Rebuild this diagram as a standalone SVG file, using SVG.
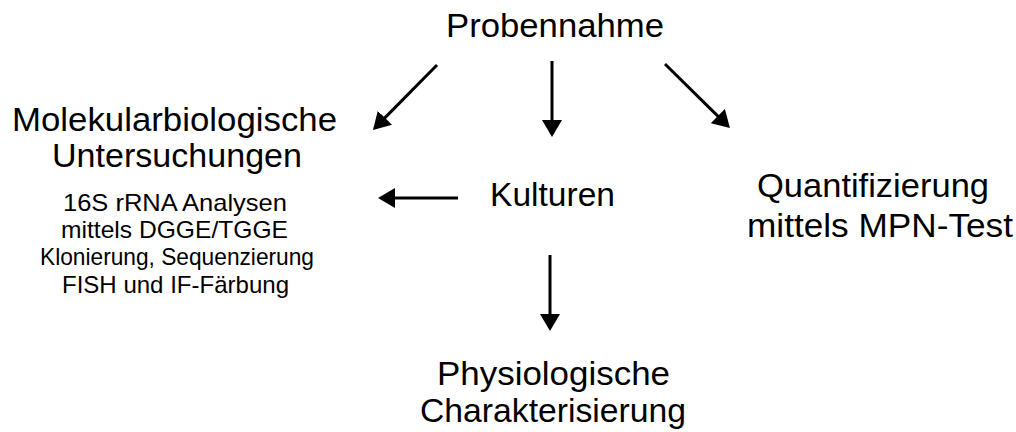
<svg xmlns="http://www.w3.org/2000/svg" width="1016" height="432" viewBox="0 0 1016 432">
<style>
text{font-family:"Liberation Sans",Arial,sans-serif;fill:#000}
.m{font-size:33px}
.s{font-size:24px}
.c line{stroke:#000;stroke-width:3;fill:none}
</style>
<defs>
<marker id="ah" viewBox="0 0 17 20" refX="5" refY="10" markerWidth="17" markerHeight="20" markerUnits="userSpaceOnUse" orient="auto">
<path d="M0,0 L17,10 L0,20 z" fill="#000"/>
</marker>
</defs>
<rect width="1016" height="432" fill="#fff"/>
<g id="probennahme"><text class="m" x="446" y="37" textLength="218" lengthAdjust="spacingAndGlyphs">Probennahme</text></g>
<g id="molekular">
<text class="m" x="12" y="131" textLength="325" lengthAdjust="spacingAndGlyphs">Molekularbiologische</text>
<text class="m" x="52" y="167" textLength="250" lengthAdjust="spacingAndGlyphs">Untersuchungen</text>
<text class="s" x="63" y="211" textLength="224" lengthAdjust="spacingAndGlyphs">16S rRNA Analysen</text>
<text class="s" x="61" y="238" textLength="227" lengthAdjust="spacingAndGlyphs">mittels DGGE/TGGE</text>
<text class="s" x="40" y="265" textLength="274" lengthAdjust="spacingAndGlyphs">Klonierung, Sequenzierung</text>
<text class="s" x="62" y="293" textLength="227" lengthAdjust="spacingAndGlyphs">FISH und IF-Färbung</text>
</g>
<g id="kulturen"><text class="m" x="490" y="206" textLength="125" lengthAdjust="spacingAndGlyphs">Kulturen</text></g>
<g id="quantifizierung">
<text class="m" x="757" y="197" textLength="232" lengthAdjust="spacingAndGlyphs">Quantifizierung</text>
<text class="m" x="747" y="237" textLength="266" lengthAdjust="spacingAndGlyphs">mittels MPN-Test</text>
</g>
<g id="physiologische">
<text class="m" x="437" y="385" textLength="233" lengthAdjust="spacingAndGlyphs">Physiologische</text>
<text class="m" x="420" y="422" textLength="266" lengthAdjust="spacingAndGlyphs">Charakterisierung</text>
</g>
<g class="c" id="connectors">
<line x1="437" y1="65" x2="381.4" y2="121.4" marker-end="url(#ah)"/>
<line x1="552" y1="61" x2="552" y2="125" marker-end="url(#ah)"/>
<line x1="665" y1="64" x2="721.4" y2="119.6" marker-end="url(#ah)"/>
<line x1="458" y1="198" x2="390" y2="198" marker-end="url(#ah)"/>
<line x1="550" y1="255" x2="550" y2="319" marker-end="url(#ah)"/>
</g>
</svg>
